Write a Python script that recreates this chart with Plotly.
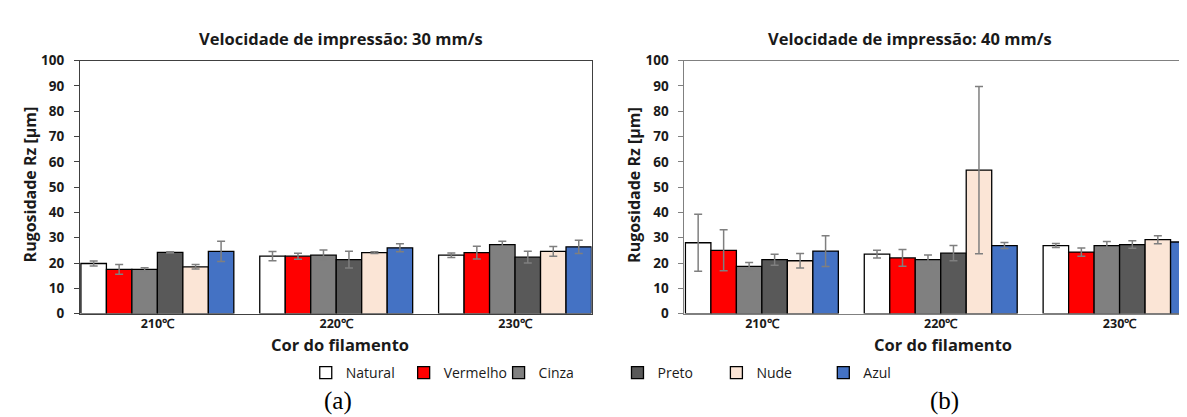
import plotly.graph_objects as go

# ---------------- data ----------------
categories = ["210℃", "220℃", "230℃"]
series_names = ["Natural", "Vermelho", "Cinza", "Preto", "Nude", "Azul"]
series_colors = ["#ffffff", "#ff0000", "#808080", "#595959", "#fbe5d6", "#4472c4"]

# 30 mm/s
natural_30 = [19.8, 22.7, 23.1]
natural_30_err = [1.0, 1.8, 0.9]
vermelho_30 = [17.5, 22.7, 24.1]
vermelho_30_err = [1.9, 1.2, 2.5]
cinza_30 = [17.5, 23.1, 27.3]
cinza_30_err = [0.6, 2.0, 1.3]
preto_30 = [24.2, 21.3, 22.3]
preto_30_err = [0.2, 3.3, 2.3]
nude_30 = [18.5, 24.1, 24.6]
nude_30_err = [0.9, 0.3, 1.9]
azul_30 = [24.6, 26.0, 26.4]
azul_30_err = [4.0, 1.6, 2.6]

# 40 mm/s
natural_40 = [28.0, 23.5, 26.9]
natural_40_err = [11.3, 1.5, 0.8]
vermelho_40 = [25.0, 22.0, 24.3]
vermelho_40_err = [8.1, 3.3, 1.6]
cinza_40 = [18.7, 21.3, 26.9]
cinza_40_err = [1.5, 1.9, 1.6]
preto_40 = [21.3, 23.9, 27.3]
preto_40_err = [2.2, 3.0, 1.5]
nude_40 = [20.9, 56.7, 29.2]
nude_40_err = [2.9, 33.0, 1.6]
azul_40 = [24.7, 26.9, 28.3]
azul_40_err = [6.1, 1.2, 2.9]

y_ticks = [0, 10, 20, 30, 40, 50, 60, 70, 80, 90, 100]

panel_30 = [(natural_30, natural_30_err), (vermelho_30, vermelho_30_err), (cinza_30, cinza_30_err),
            (preto_30, preto_30_err), (nude_30, nude_30_err), (azul_30, azul_30_err)]
panel_40 = [(natural_40, natural_40_err), (vermelho_40, vermelho_40_err), (cinza_40, cinza_40_err),
            (preto_40, preto_40_err), (nude_40, nude_40_err), (azul_40, azul_40_err)]

# ---------------- figure ----------------
W, H = 1187, 417
FONT = "Open Sans"
TXT = "#1a1a1a"

fig = go.Figure()
legend_names = ["legend", "legend2", "legend3", "legend4", "legend5", "legend6"]

for i, (name, color) in enumerate(zip(series_names, series_colors)):
    vals, errs = panel_30[i]
    fig.add_trace(go.Bar(
        x=categories, y=vals, name=name, xaxis="x", yaxis="y",
        marker=dict(color=color, line=dict(color="#000000", width=1.3)),
        error_y=dict(type="data", array=errs, visible=True, color="#7f7f7f", thickness=1.5, width=4),
        legend=legend_names[i], showlegend=True,
    ))
for i, (name, color) in enumerate(zip(series_names, series_colors)):
    vals, errs = panel_40[i]
    fig.add_trace(go.Bar(
        x=categories, y=vals, name=name, xaxis="x2", yaxis="y2",
        marker=dict(color=color, line=dict(color="#000000", width=1.3)),
        error_y=dict(type="data", array=errs, visible=True, color="#7f7f7f", thickness=1.5, width=4),
        showlegend=False,
    ))

def px_x(p):
    return p / W

def px_y(p):
    return 1 - p / H

ydom = [px_y(310), px_y(45.5)]

xaxis_common = dict(
    type="category", showline=True, mirror=True, ticks="", showgrid=False, zeroline=False,
    ticklabelstandoff=-2,
    tickfont=dict(family=FONT, size=12.5, color=TXT, weight="bold"),
)
yaxis_common = dict(
    range=[0, 100], tickvals=y_ticks, showline=True, mirror=True, ticks="outside", ticklen=5,
    showgrid=False, zeroline=False, ticklabelstandoff=7,
    tickfont=dict(family=FONT, size=13.5, color=TXT, weight="bold"),
)

fig.update_layout(
    width=W, height=H,
    margin=dict(l=0, r=0, t=0, b=0),
    paper_bgcolor="white", plot_bgcolor="white",
    barmode="group", bargap=0.145, bargroupgap=0,
    xaxis=dict(domain=[px_x(72), px_x(584)], range=[-0.433, 2.4275], anchor="y",
               linecolor="#404040", linewidth=1.2, **xaxis_common),
    yaxis=dict(domain=ydom, anchor="x", linecolor="#404040", linewidth=1.2,
               tickcolor="#404040", **yaxis_common),
    xaxis2=dict(domain=[px_x(677), 1.0], range=[-0.433, 2.416], anchor="y2",
                linecolor="#808080", linewidth=1.2, **xaxis_common),
    yaxis2=dict(domain=ydom, anchor="x2", linecolor="#808080", linewidth=1.2,
                tickcolor="#808080", **yaxis_common),
)

# legends, one per entry, placed individually
legend_marker_x = [324, 422, 517, 636, 735, 842]
for lname, mx in zip(legend_names, legend_marker_x):
    fig.update_layout({lname: dict(
        x=px_x(mx - 26), xanchor="left", y=px_y(372), yanchor="middle",
        orientation="h", bgcolor="rgba(0,0,0,0)", borderwidth=0,
        font=dict(family=FONT, size=14, color=TXT), itemwidth=30,
        itemclick=False, itemdoubleclick=False,
    )})

annotations = [
    dict(text="Velocidade de impressão: 30 mm/s", x=px_x(333), y=px_y(22),
         font=dict(family=FONT, size=16.5, color=TXT, weight="bold")),
    dict(text="Velocidade de impressão: 40 mm/s", x=px_x(903), y=px_y(22),
         font=dict(family=FONT, size=16.5, color=TXT, weight="bold")),
    dict(text="Rugosidade Rz [µm]", x=px_x(22), y=px_y(175), textangle=-90,
         font=dict(family=FONT, size=16, color=TXT, weight="bold")),
    dict(text="Rugosidade Rz [µm]", x=px_x(627), y=px_y(175), textangle=-90,
         font=dict(family=FONT, size=16, color=TXT, weight="bold")),
    dict(text="Cor do filamento", x=px_x(332), y=px_y(342),
         font=dict(family=FONT, size=16.5, color=TXT, weight="bold")),
    dict(text="Cor do filamento", x=px_x(936), y=px_y(342),
         font=dict(family=FONT, size=16.5, color=TXT, weight="bold")),
    dict(text="(a)", x=px_x(330), y=px_y(401),
         font=dict(family="Liberation Serif", size=25, color="#000000")),
    dict(text="(b)", x=px_x(937), y=px_y(401),
         font=dict(family="Liberation Serif", size=25, color="#000000")),
]
for a in annotations:
    a.update(xref="paper", yref="paper", showarrow=False, xanchor="center", yanchor="middle")
fig.update_layout(annotations=annotations)

fig.write_html("out.html")
